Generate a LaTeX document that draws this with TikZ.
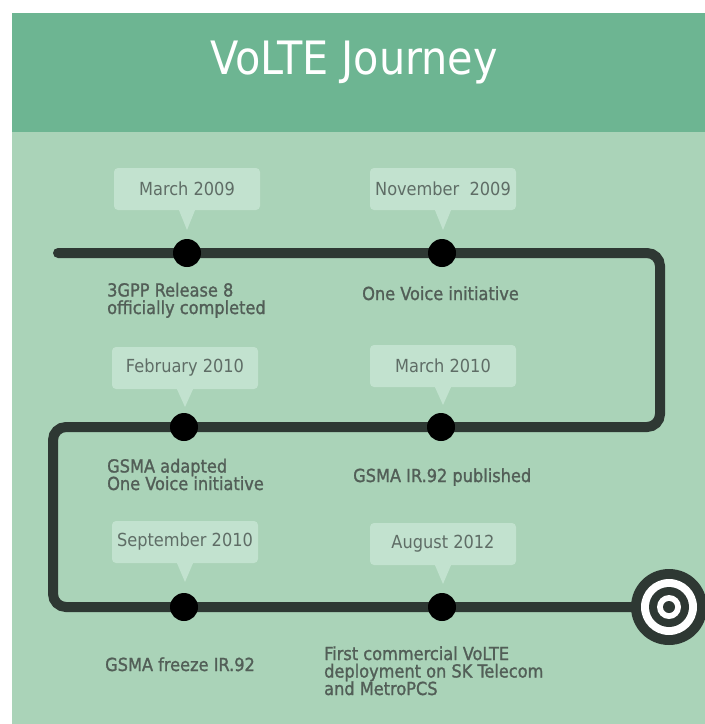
\documentclass[tikz,border=0pt]{standalone}
\usepackage{fontspec}
\usepackage{tikz}
\setmainfont{DejaVu Sans Condensed}
\newfontfamily\labelfont{DejaVu Sans Condensed}[FakeBold=1.3]

\definecolor{headgreen}{HTML}{6DB592}
\definecolor{bodygreen}{HTML}{AAD3B8}
\definecolor{tipgreen}{HTML}{C2E2CF}
\definecolor{trackgray}{HTML}{2E3833}
\definecolor{textgray}{HTML}{525E57}
\definecolor{dategray}{HTML}{5F6D66}

\begin{document}
\begin{tikzpicture}[x=1pt,y=-1pt,
        track/.style={draw=trackgray, line width=10pt, line cap=round, rounded corners=13pt},
        event/.style={circle, fill=black, inner sep=0pt, minimum size=28pt},
        date/.style={fill=tipgreen, rounded corners=4pt, minimum width=146pt, minimum height=42pt,
            inner sep=0pt, text=dategray, font=\fontsize{18}{18}\selectfont},
        note/.style={anchor=base west, inner sep=0pt, align=left, text=textgray,
            font=\labelfont\fontsize{18}{17.5}\selectfont}]
        \useasboundingbox (0,0) rectangle (705,724);
        \fill[white] (0,0) rectangle (705,724);
        \fill[bodygreen] (12,132) rectangle (705,724);
        \fill[headgreen] (12,13) rectangle (705,132);

        \node[anchor=base, inner sep=0pt, text=white, font=\fontsize{46}{46}\selectfont]
            (title) at (354,74) {VoLTE Journey};

        % the track
        \coordinate (start) at (58,253);
        \coordinate (ne) at (660,253);
        \coordinate (se) at (660,427);
        \coordinate (nw) at (53,427);
        \coordinate (sw) at (53,607);
        \node[circle, fill=trackgray, inner sep=0pt, minimum size=76pt] (goal) at (669,607) {};
        \draw[track] (start) -- (ne) -- (se) -- (nw) -- (sw) -- (goal.center);
        \fill[white] (goal) circle (28pt);
        \fill[trackgray] (goal) circle (20pt);
        \fill[white] (goal) circle (12pt);
        \fill[trackgray] (goal) circle (6pt);

        % events
        \node[event] (e1) at (187,253) {};
        \node[event] (e2) at (442,253) {};
        \node[event] (e3) at (184,427) {};
        \node[event] (e4) at (441,427) {};
        \node[event] (e5) at (184,607) {};
        \node[event] (e6) at (442,607) {};

        % date callouts
        \node[date] (d1) at (187,189) {March 2009};
        \node[date] (d2) at (443,189) {November\ \ 2009};
        \node[date] (d3) at (185,368) {February 2010};
        \node[date] (d4) at (443,366) {March 2010};
        \node[date] (d5) at (185,542) {September 2010};
        \node[date] (d6) at (443,544) {August 2012};
        \fill[tipgreen] ([xshift=-8pt]d1.south) -- (187,230) -- ([xshift=8pt]d1.south) -- cycle;
        \fill[tipgreen] ([xshift=-8pt]d2.south) -- (443,230) -- ([xshift=8pt]d2.south) -- cycle;
        \fill[tipgreen] ([xshift=-8pt]d3.south) -- (185,407) -- ([xshift=8pt]d3.south) -- cycle;
        \fill[tipgreen] ([xshift=-8pt]d4.south) -- (443,405) -- ([xshift=8pt]d4.south) -- cycle;
        \fill[tipgreen] ([xshift=-8pt]d5.south) -- (185,582) -- ([xshift=8pt]d5.south) -- cycle;
        \fill[tipgreen] ([xshift=-8pt]d6.south) -- (443,584) -- ([xshift=8pt]d6.south) -- cycle;

        % what happened (base is the last line)
        \node[note] (n1) at (107,314) {3GPP Release 8\\officially completed};
        \node[note] (n2) at (362,300) {One Voice initiative};
        \node[note] (n3) at (107,490) {GSMA adapted\\One Voice initiative};
        \node[note] (n4) at (353,482) {GSMA IR.92 published};
        \node[note] (n5) at (105,671) {GSMA freeze IR.92};
        \node[note] (n6) at (324,695) {First commercial VoLTE\\deployment on SK Telecom\\and MetroPCS};
\end{tikzpicture}
\end{document}
